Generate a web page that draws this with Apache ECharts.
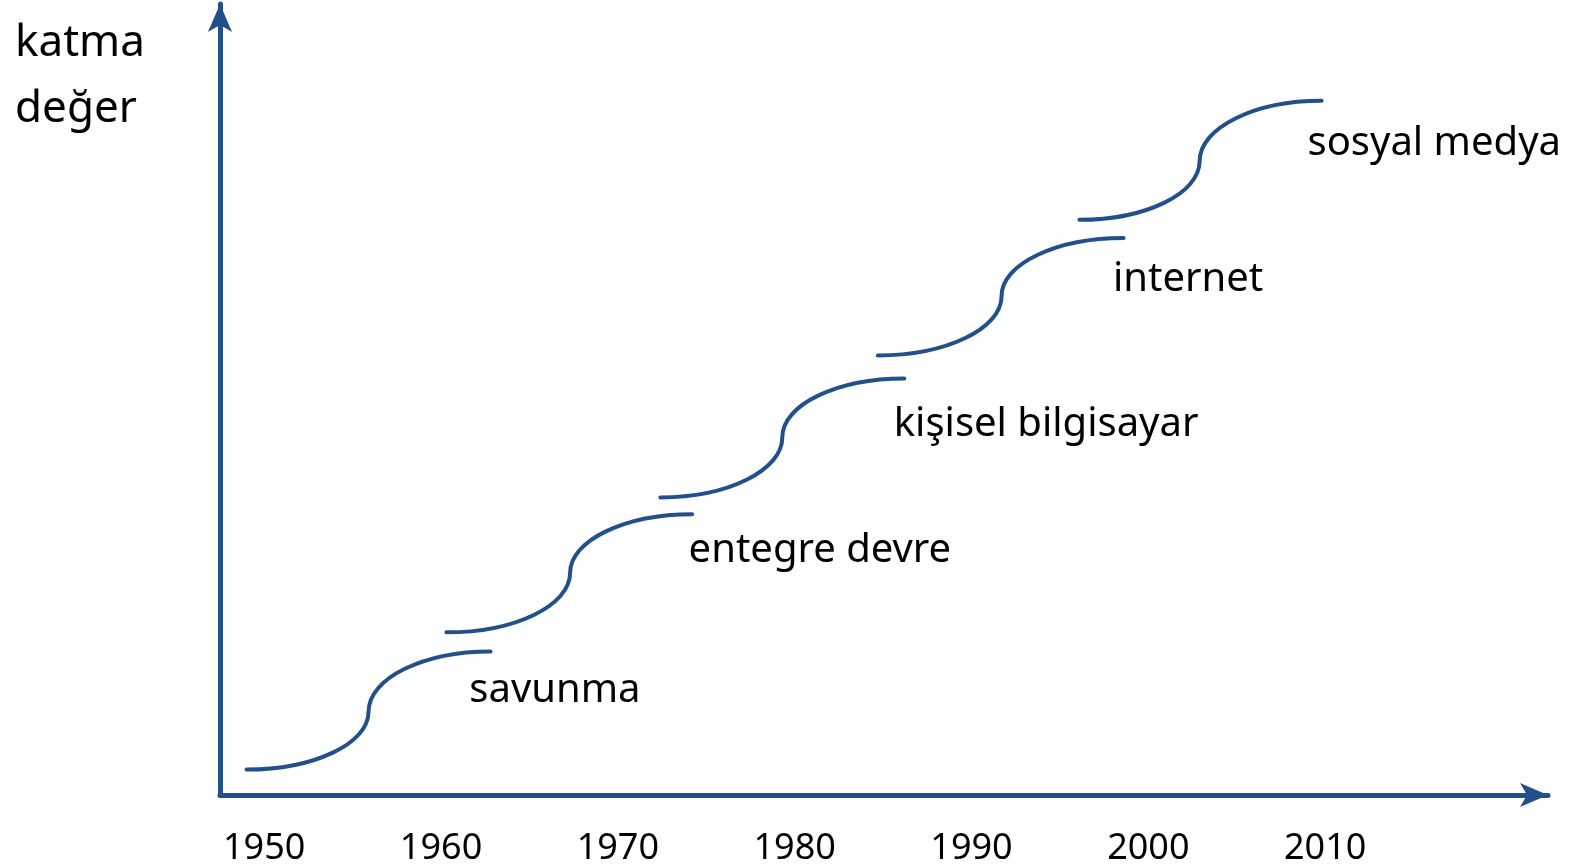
<!DOCTYPE html>
<html>
<head>
<meta charset="utf-8">
<script src="https://cdn.jsdelivr.net/npm/echarts@6/dist/echarts.min.js"></script>
<style>
  html, body { margin: 0; padding: 0; background: #fff; }
  #chart { width: 1579px; height: 867px; }
</style>
</head>
<body>
<div id="chart"></div>
<script>
// yıl etiketleri
const yearTicks = [1950, 1960, 1970, 1980, 1990, 2000, 2010];

// her dalga: [başlangıç yıl, değer, dönüm yıl, değer, bitiş yıl, değer]
const waveNames = ['savunma', 'entegre devre', 'kişisel bilgisayar', 'internet', 'sosyal medya'];
const waveStart = [[1949.0, 3.2], [1960.3, 20.5], [1972.4, 37.5], [1984.7, 55.4], [1996.1, 72.5]];
const waveMid = [[1955.9, 10.5], [1967.3, 28.0], [1979.3, 45.1], [1991.7, 62.9], [2002.9, 79.9]];
const waveEnd = [[1962.8, 18.1], [1974.2, 35.4], [1986.2, 52.5], [1998.6, 70.2], [2009.8, 87.5]];

// etiketlerin konumu (sol kenar yıl, değer)
const labelPos = [[1961.6, 13.2], [1974.0, 30.8], [1985.6, 46.7], [1998.0, 65.0], [2009.0, 82.1]];

const BLUE = '#22508a';
const FONT = '"Noto Sans", "Open Sans", sans-serif';

const chart = echarts.init(document.getElementById('chart'), null, { renderer: 'canvas' });

const waveData = waveNames.map((n, i) => ({
    name: n,
    value: [...waveStart[i], ...waveMid[i], ...waveEnd[i]]
}));

const K = 0.5523; // çeyrek elips için bezier katsayısı

chart.setOption({
    animation: false,
    title: {
        text: 'katma\ndeğer',
        left: 10,
        top: 5,
        textStyle: { fontFamily: FONT, fontWeight: 'normal', fontSize: 44, lineHeight: 66, color: '#000' }
    },
    grid: { left: 220, right: 31, top: 4, bottom: 71, containLabel: false },
    xAxis: {
        type: 'value',
        min: 1947.5,
        max: 2022.6,
        splitLine: { show: false },
        axisTick: { show: false },
        axisLine: {
            show: true,
            onZero: false,
            symbol: ['none', 'arrow'],
            symbolSize: [18, 28],
            lineStyle: { color: BLUE, width: 5 }
        },
        axisLabel: {
            customValues: yearTicks,
            formatter: v => String(v),
            margin: 36,
            fontFamily: FONT,
            fontSize: 36,
            color: '#000'
        }
    },
    yAxis: {
        type: 'value',
        min: 0,
        max: 99.7,
        splitLine: { show: false },
        axisTick: { show: false },
        axisLabel: { show: false },
        axisLine: {
            show: true,
            onZero: false,
            symbol: ['none', 'arrow'],
            symbolSize: [18, 28],
            lineStyle: { color: BLUE, width: 5 }
        }
    },
    series: [
        {
            type: 'custom',
            data: waveData,
            renderItem: (params, api) => {
                const p0 = api.coord([api.value(0), api.value(1)]);
                const pm = api.coord([api.value(2), api.value(3)]);
                const p1 = api.coord([api.value(4), api.value(5)]);
                const rx1 = pm[0] - p0[0], ry1 = p0[1] - pm[1];
                const rx2 = p1[0] - pm[0], ry2 = pm[1] - p1[1];
                const d = 'M' + p0[0] + ' ' + p0[1]
                    + ' C' + (p0[0] + K * rx1) + ' ' + p0[1] + ' ' + pm[0] + ' ' + (pm[1] + K * ry1) + ' ' + pm[0] + ' ' + pm[1]
                    + ' C' + pm[0] + ' ' + (pm[1] - K * ry2) + ' ' + (p1[0] - K * rx2) + ' ' + p1[1] + ' ' + p1[0] + ' ' + p1[1];
                return {
                    type: 'path',
                    shape: { pathData: d },
                    style: { fill: 'none', stroke: BLUE, lineWidth: 4, lineCap: 'round' }
                };
            }
        },
        {
            type: 'scatter',
            symbolSize: 0,
            silent: true,
            itemStyle: { opacity: 1 },
            data: waveNames.map((n, i) => ({ name: n, value: labelPos[i] })),
            label: {
                show: true,
                position: 'right',
                distance: 0,
                align: 'left',
                verticalAlign: 'middle',
                formatter: p => p.name,
                fontFamily: FONT,
                fontSize: 40,
                color: '#000',
                textBorderWidth: 0
            }
        }
    ]
});

window.addEventListener('resize', () => chart.resize());
</script>
</body>
</html>
